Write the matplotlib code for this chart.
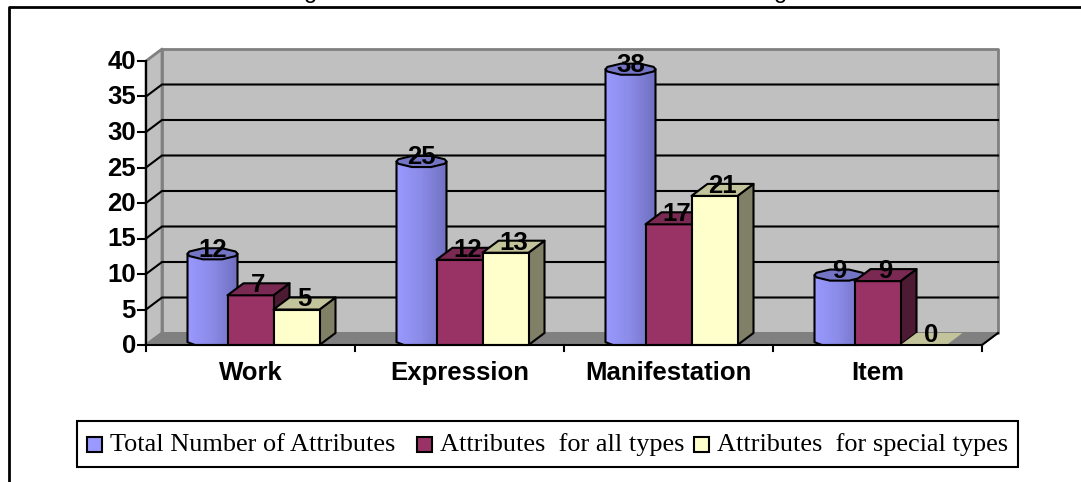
import matplotlib
matplotlib.use('Agg')
import matplotlib.pyplot as plt
import numpy as np
from matplotlib.colors import LinearSegmentedColormap
from matplotlib.patches import Polygon, Rectangle

# Dados
categories = ['Work', 'Expression', 'Manifestation', 'Item']
total_attrs = [12, 25, 38, 9]
all_types = [7, 12, 17, 9]
special_types = [5, 13, 21, 0]
y_ticks = [0, 5, 10, 15, 20, 25, 30, 35, 40]
legend_labels = ['Total Number of Attributes', 'Attributes  for all types',
                 'Attributes  for special types']

W, H = 1081, 482
LW = 1.5
BOLD = 18.5

fig = plt.figure(figsize=(W / 100, H / 100), dpi=100)
plt.rcParams['font.family'] = ['Liberation Sans', 'DejaVu Sans']

# eixo principal = plano da frente do grafico 3D
ax = fig.add_axes([146 / W, 1 - 345 / H, 836 / W, 284 / H])
ax.set_xlim(0, 4)
ax.set_ylim(0, 40)
ax.axis('off')

# profundidade em unidades de dados
dx = 16 / 209
dy = 12 / 7.1
bar_w = 46 / 209
cyl_w = 50 / 209


def poly(pts, fc, ec='black', lw=LW, z=3):
    ax.add_patch(Polygon(pts, closed=True, fc=fc, ec=ec, lw=lw, zorder=z,
                         clip_on=False, joinstyle='round'))


# paredes e chao
poly([(0, 0), (dx, dy), (dx, 40 + dy), (0, 40)], '#c0c0c0', '#808080', 2, 1)
poly([(dx, dy), (4 + dx, dy), (4 + dx, 40 + dy), (dx, 40 + dy)], '#c0c0c0', '#808080', 2, 1)
poly([(0, 0), (4, 0), (4 + dx, dy), (dx, dy)], '#808080', '#808080', 1, 1.1)

for t in y_ticks[1:-1]:
    ax.plot([0, dx, 4 + dx], [t, t + dy, t + dy], color='black', lw=LW, zorder=1.5,
            clip_on=False)

cyl_cmap = LinearSegmentedColormap.from_list('cyl', ['#9999ff', '#8a8ae6', '#6f6fc0'])


def cylinder(cx, val, z):
    # cx = centro da base, com a profundidade ja somada
    ang = np.radians([0, 22.5, 67.5, 112.5, 157.5, 180, 202.5, 247.5, 292.5, 337.5])
    rx = cyl_w / 2
    ry = dy / 2
    cy = val + ry
    top = [(cx + rx * np.cos(a), cy + ry * np.sin(a)) for a in ang]
    body = [(cx - rx, cy), (cx - rx, 0.4), (cx - rx * 0.7, 0), (cx + rx * 0.7, 0),
            (cx + rx, 0.4), (cx + rx, cy)]
    patch = Polygon(body, closed=True, fc='none', ec='none', transform=ax.transData)
    ax.add_patch(patch)
    im = ax.imshow(np.linspace(0, 1, 64)[None, :], cmap=cyl_cmap, aspect='auto',
                   extent=(cx - rx, cx + rx, 0, cy), zorder=z, clip_on=True)
    im.set_clip_path(patch)
    poly(body, 'none', z=z + 0.01)
    poly(top, '#7474c4', z=z + 0.02)


def box(x0, val, fc, top_c, side_c, z):
    x1 = x0 + bar_w
    if val > 0:
        poly([(x1, 0), (x1 + dx, dy), (x1 + dx, val + dy), (x1, val)], side_c, z=z)
        poly([(x0, 0), (x1, 0), (x1, val), (x0, val)], fc, z=z + 0.01)
        poly([(x0, val), (x1, val), (x1 + dx, val + dy), (x0 + dx, val + dy)], top_c, z=z + 0.02)
    else:
        poly([(x0, 0), (x1, 0), (x1 + dx, dy), (x0 + dx, dy)], top_c, ec='none', z=z)


for i in range(len(categories)):
    c = i + 0.5
    cylinder(c - bar_w + dx / 2, total_attrs[i], 3)
    box(c - bar_w / 2, all_types[i], '#993366', '#7a2952', '#4d1a33', 4)
    box(c + bar_w / 2, special_types[i], '#ffffcc', '#c4c49c', '#808066', 5)
    for off, v in zip([-bar_w, 0, bar_w], [total_attrs[i], all_types[i], special_types[i]]):
        ax.text(c + off + dx / 2, v + 3 / 7.1, str(v), ha='center', va='baseline',
                fontsize=BOLD, fontweight='bold', zorder=8)

# eixos
ax.plot([0, 0], [0, 40], color='black', lw=LW, zorder=6, clip_on=False)
ax.plot([0, 4], [0, 0], color='black', lw=LW, zorder=6, clip_on=False)
tick_x = 8 / 209
tick_y = 6 / 7.1
for t in y_ticks:
    ax.plot([-tick_x, 0], [t, t], color='black', lw=LW, zorder=6, clip_on=False)
    ax.text(-10 / 209, t - 8 / 7.1, str(t), ha='right', va='baseline', fontsize=BOLD,
            fontweight='bold')
for k in range(5):
    ax.plot([k, k], [-tick_y, 0], color='black', lw=LW, zorder=6, clip_on=False)
ax.plot([0, dx], [0, dy], color='#808080', lw=LW, zorder=2, clip_on=False)
ax.plot([4, 4 + dx], [0, dy], color='black', lw=LW, zorder=2, clip_on=False)
for i, name in enumerate(categories):
    ax.text(i + 0.5, -35 / 7.1, name, ha='center', va='baseline', fontsize=BOLD,
            fontweight='bold')

# camada em pixels: moldura, titulo cortado, legenda
ov = fig.add_axes([0, 0, 1, 1], zorder=10)
ov.set_xlim(0, W)
ov.set_ylim(H, 0)
ov.axis('off')
ov.patch.set_alpha(0)
ov.plot([9, 9, W], [H, 7, 7], color='black', lw=2, clip_on=False)
for gx in [311, 781]:
    ov.text(gx, -2, 'g', ha='center', va='baseline', fontsize=17, clip_on=True)

ov.add_patch(Rectangle((77, 421), 941, 46, fc='white', ec='black', lw=LW))
marker_x = [87, 417, 694]
text_x = [110, 440, 717]
colors = ['#9999ff', '#993366', '#ffffcc']
for mx, tx, col, lab in zip(marker_x, text_x, colors, legend_labels):
    ov.add_patch(Rectangle((mx, 437), 15, 15, fc=col, ec='black', lw=LW))
    ov.text(tx, 451, lab, ha='left', va='baseline', fontsize=18.9,
            family=['Liberation Serif', 'DejaVu Serif'])

fig.savefig('out.png', dpi=100)
